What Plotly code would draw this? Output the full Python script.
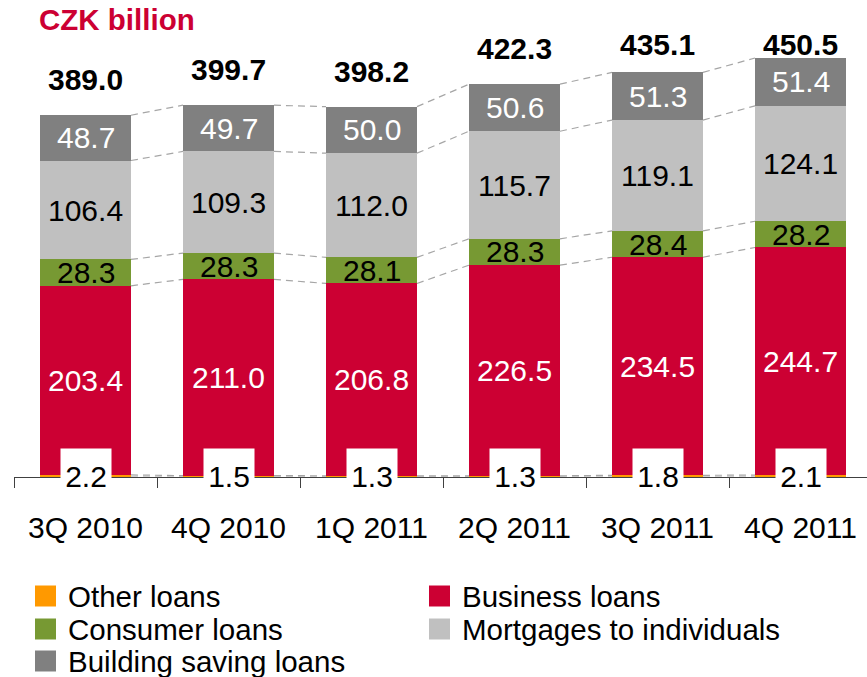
import plotly.graph_objects as go

# Loan portfolio by quarter (CZK billion)
quarters = ["3Q 2010", "4Q 2010", "1Q 2011", "2Q 2011", "3Q 2011", "4Q 2011"]
other_loans = [2.2, 1.5, 1.3, 1.3, 1.8, 2.1]
business_loans = [203.4, 211.0, 206.8, 226.5, 234.5, 244.7]
consumer_loans = [28.3, 28.3, 28.1, 28.3, 28.4, 28.2]
mortgages = [106.4, 109.3, 112.0, 115.7, 119.1, 124.1]
building_saving_loans = [48.7, 49.7, 50.0, 50.6, 51.3, 51.4]
totals = [389.0, 399.7, 398.2, 422.3, 435.1, 450.5]

series_names = ["Other loans", "Business loans", "Consumer loans",
                "Mortgages to individuals", "Building saving loans"]
series_values = [other_loans, business_loans, consumer_loans,
                 mortgages, building_saving_loans]
series_colors = ["#FF9900", "#CC0033", "#779933", "#C0C0C0", "#808080"]
label_colors = [None, "white", "black", "black", "white"]

FONT = "Liberation Sans, Arial, sans-serif"
W, H = 867, 677
ML, MB = 14, 200
PLOT_W, PLOT_H = W - ML, H - MB
BAR_W = 0.636
HALF = BAR_W / 2
xs = list(range(len(quarters)))

fig = go.Figure()

# stacked bars
for name, vals, col in zip(series_names, series_values, series_colors):
    fig.add_trace(go.Bar(x=xs, y=vals, name=name, width=BAR_W,
                         marker=dict(color=col, line=dict(width=0)),
                         showlegend=False, hoverinfo="skip"))

# cumulative boundaries of the stack (0 at the bottom)
cum = [[0.0] * len(xs)]
for vals in series_values:
    cum.append([c + v for c, v in zip(cum[-1], vals)])

# dashed connectors between neighbouring bars at every boundary
cx, cy = [], []
for level in cum:
    for i in range(len(xs) - 1):
        cx += [xs[i] + HALF, xs[i + 1] - HALF, None]
        cy += [level[i], level[i + 1], None]
fig.add_trace(go.Scatter(x=cx, y=cy, mode="lines", showlegend=False,
                         hoverinfo="skip",
                         line=dict(color="#A6A6A6", width=1.2, dash="7px,5px")))

annotations = []
# segment value labels
for s, (vals, tcol) in enumerate(zip(series_values, label_colors)):
    for i, v in enumerate(vals):
        if s == 0:
            # small "other loans" values sit in white boxes on the axis
            annotations.append(dict(
                x=xs[i], y=0, xref="x", yref="y", text=f"{v:.1f}",
                showarrow=False, yshift=1,
                font=dict(family=FONT, size=30, color="black"),
                bgcolor="white", width=50, height=54, borderpad=0,
                valign="middle"))
        else:
            annotations.append(dict(
                x=xs[i], y=cum[s][i] + v / 2, xref="x", yref="y",
                text=f"{v:.1f}", showarrow=False,
                font=dict(family=FONT, size=30, color=tcol)))

# totals above the bars
for i, t in enumerate(totals):
    annotations.append(dict(
        x=xs[i], y=min(t + 38, 465), xref="x", yref="y",
        text=f"<b>{t:.1f}</b>", showarrow=False, yanchor="middle",
        font=dict(family=FONT, size=30, color="black")))


def px_x(p):
    return (p - ML) / PLOT_W


def px_y(p):
    return (PLOT_H - p) / PLOT_H


# unit caption
annotations.append(dict(
    x=px_x(37), y=px_y(20), xref="paper", yref="paper",
    text="<b>CZK billion</b>", showarrow=False,
    xanchor="left", yanchor="middle",
    font=dict(family=FONT, size=29.5, color="#CC0033")))

# legend: two columns, filled row by row
shapes = []
col_x = [35, 429]
row_y = [596, 629, 661]
SQ = 21
for k, (name, col) in enumerate(zip(series_names, series_colors)):
    cxp = col_x[k % 2]
    ryp = row_y[k // 2]
    shapes.append(dict(type="rect", xref="paper", yref="paper",
                       x0=px_x(cxp), x1=px_x(cxp + SQ),
                       y0=px_y(ryp - SQ / 2), y1=px_y(ryp + SQ / 2),
                       fillcolor=col, line=dict(width=0)))
    annotations.append(dict(
        x=px_x(cxp + 31), y=px_y(ryp), xref="paper", yref="paper",
        text=name, showarrow=False, xanchor="left", yanchor="middle",
        font=dict(family=FONT, size=29.5, color="black")))

fig.update_layout(
    width=W, height=H,
    margin=dict(l=ML, r=0, t=0, b=MB, pad=0),
    barmode="stack", bargap=0,
    plot_bgcolor="white", paper_bgcolor="white",
    annotations=annotations, shapes=shapes,
    showlegend=False,
    xaxis=dict(range=[-0.5, -0.5 + PLOT_W / 143.0],
               tickmode="array", tickvals=xs, ticktext=quarters,
               ticks="", showgrid=False, zeroline=False,
               showline=True, linecolor="#404040", linewidth=1,
               ticklabelstandoff=24,
               tickfont=dict(family=FONT, size=30, color="black"),
               minor=dict(tickmode="array",
                          tickvals=[x - 0.5 for x in xs] + [xs[-1] + 0.5],
                          ticks="outside", ticklen=10, tickwidth=1,
                          tickcolor="#404040", showgrid=False)),
    yaxis=dict(range=[0, PLOT_H / 0.93], visible=False, showgrid=False,
               zeroline=False),
)

fig.write_html("out.html")
